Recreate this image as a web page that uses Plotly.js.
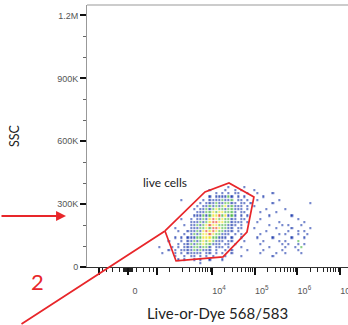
<!DOCTYPE html>
<html>
<head>
<meta charset="utf-8">
<script src="https://cdn.plot.ly/plotly-3.0.1.min.js"></script>
<style>
html,body{margin:0;padding:0;background:#fff;overflow:hidden;}
#chart{width:348px;height:325px;}
</style>
</head>
<body>
<div id="chart"></div>
<script>
// ---- data ----
// biexponential-style display transform (asinh with cofactor)
const transformC = 215.5;
function toDisplay(v){ return Math.asinh(v / transformC); }

// x axis ticks (fluorescence values)
const xMajorValues = [-500, 0, 500, 1e4, 1e5, 1e6, 1e7];
const xMajorLabels = ['', '0', '', '10<sup>4</sup>', '10<sup>5</sup>', '10<sup>6</sup>', '10<sup>7</sup>'];
const xMinorValues = [-400,-300,-200,-100,-50,-40,-30,-20,-10,10,20,30,40,50,100,200,300,400,
  1000,2000,3000,4000,5000,6000,7000,8000,9000,
  2e4,3e4,4e4,5e4,6e4,7e4,8e4,9e4,
  2e5,3e5,4e5,5e5,6e5,7e5,8e5,9e5,
  2e6,3e6,4e6,5e6,6e6,7e6,8e6,9e6];

// y axis ticks (SSC)
const yTickValues = [0, 300000, 600000, 900000, 1200000];
const yTickLabels = ['0', '300K', '600K', '900K', '1.2M'];

// gate "live cells" polygon vertices (fluorescence, SSC)
const gateX = [778, 6850, 25000, 96000, 66000, 18100, 1430];
const gateY = [172000, 358000, 401000, 334000, 167000, 48000, 29000];
const gateName = 'live cells';

// pseudocolor density: rows top (high SSC) to bottom,
// '.' = no events, 1 = low (blue), 2 = green, 3 = yellow, 4 = high (red)
const densityRows = [
 "..........|..........|..1....1..|..........|.........",
 "..........|......1...|.1..1.1...|1.........|.........",
 "..........|........1.|1.1.11..1.|.1....1...|.........",
 "..........|......1.11|1121.1.1..|...1......|.........",
 ".......1..|....1.1111|2112.11.1.|.1......1.|.........",
 "..........|...1.11121|12211.11.1|......1...|........1",
 "..........|..1.112121|2312111.1.|1.........|.........",
 "..........|.1.1121232|2122111.1.|....1.....|1........",
 "..........|..11122323|32221.11..|..1....1..|.........",
 "..........|.111212334|23121.1.1.|.....1....|..1......",
 ".......1..|1.11213432|32211.11..|..1.......|....1....",
 "..........|1112123443|3221111.1.|.1......1.|......1..",
 "........1.|1121234332|22111.1...|.....1...1|.1...1...",
 ".....1....|1112232443|2211.11...|1......1..|..1.....1",
 "......1..1|1121343432|2111.1....|....1.....|.1..1.1..",
 "........1.|1212334322|111.1.1...|..1.....1.|1...1..1.",
 ".....1.1.1|1122333221|11.1..1...|.1....1...|..1...1..",
 "...1...1.1|1212323211|1.11...1..|...1....1.|1...2....",
 "......1.11|2122322111|.11.1.....|..1......1|.1..1.1..",
 "1...1.1.11|1221221.11|1.1...1...|.....1....|1..1.2...",
 "...1.1.111|1212111.1.|.1.1....1.|...1.....1|....1....",
 ".1...1.1.1|1111.11.1.|1..1......|..1....1..|1....1...",
 ".....1..1.|11.1.1.1..|.1....1...|......1...|.........",
 "......1.1.|.1.1..1...|1.........|..........|.........",
 "..........|...1......|..........|..........|........."
];
// density grid bins (display units for x, SSC for y)
const binX0 = 1.726, binDX = 0.17;
const binY0 = 17200, binDY = 15030;

// ---- build ----
const zGrid = densityRows.slice().reverse().map(r =>
  r.replace(/\|/g,'').split('').map(ch => ch === '.' ? null : Number(ch)));

const densityTrace = {
  type: 'heatmap',
  z: zGrid,
  x0: binX0, dx: binDX,
  y0: binY0, dy: binDY,
  xgap: 1.3, ygap: 1.3,
  zmin: 0.5, zmax: 4.5,
  colorscale: [[0,'#2844b0'],[0.25,'#2844b0'],[0.25,'#4fb848'],[0.5,'#4fb848'],
               [0.5,'#ece22c'],[0.75,'#ece22c'],[0.75,'#e8442a'],[1,'#e8442a']],
  showscale: false,
  hoverinfo: 'skip'
};

const gateTrace = {
  type: 'scatter', mode: 'lines',
  x: gateX.concat([gateX[0]]).map(toDisplay),
  y: gateY.concat([gateY[0]]),
  line: {color: '#e8262a', width: 1.7},
  hoverinfo: 'skip'
};

const red = '#e8262a';
const layout = {
  width: 348, height: 325,
  margin: {l: 87, r: 0, t: 5, b: 58, pad: 0},
  paper_bgcolor: '#fff', plot_bgcolor: '#fff',
  showlegend: false,
  xaxis: {
    range: [-2.211, 11.866],
    tickmode: 'array',
    tickvals: xMajorValues.map(toDisplay),
    ticktext: xMajorLabels,
    ticks: 'outside', ticklen: 7, tickwidth: 2, tickcolor: '#111',
    ticklabelshift: 7, ticklabelstandoff: 8, ticklabeloverflow: 'allow',
    minor: {tickmode: 'array', tickvals: xMinorValues.map(toDisplay), ticks: 'outside',
            ticklen: 4, tickwidth: 1, tickcolor: '#222', showgrid: false},
    showgrid: false, zeroline: false,
    showline: true, linecolor: '#333', linewidth: 1,
    tickfont: {family: 'Liberation Sans, Arial, sans-serif', size: 9, color: '#555'},
    title: {text: 'Live-or-Dye 568/583', standoff: 13,
            font: {family: 'Lato, sans-serif', size: 15, color: '#222'}},
    fixedrange: true
  },
  yaxis: {
    range: [0, 1250000],
    tickmode: 'array',
    tickvals: yTickValues,
    ticktext: yTickLabels,
    ticks: 'outside', ticklen: 6, tickwidth: 2, tickcolor: '#111',
    minor: {dtick: 100000, tick0: 0, ticks: 'outside', ticklen: 3, tickwidth: 1,
            tickcolor: '#666', showgrid: false},
    showgrid: false, zeroline: false,
    showline: true, linecolor: '#999', linewidth: 1,
    tickfont: {family: 'Liberation Sans, Arial, sans-serif', size: 9, color: '#555'},
    title: {text: 'SSC', standoff: 34,
            font: {family: 'Lato, sans-serif', size: 12.5, color: '#222'}},
    fixedrange: true
  },
  shapes: [
    {type: 'line', xref: 'paper', yref: 'paper', x0: 0, x1: 1, y0: 1, y1: 1,
     line: {color: '#999', width: 1}}
  ],
  annotations: [
    {xref: 'x', yref: 'y', x: toDisplay(780), y: 405000, text: gateName, showarrow: false,
     font: {family: 'Lato, sans-serif', size: 12, color: '#222'}},
    // red call-out arrow on the left
    {xref: 'paper', yref: 'paper', x: -0.0805, y: 0.1947, text: '', showarrow: true,
     ax: -70, ay: 0, arrowhead: 2, arrowsize: 1.1, arrowwidth: 1.8, arrowcolor: red},
    // red "2"
    {xref: 'paper', yref: 'paper', x: -0.2223, y: -0.1145, text: '2', showarrow: false,
     font: {family: 'Lato, sans-serif', size: 22, color: red}},
    // red pointer line to the gate vertex
    {xref: 'x', yref: 'y', x: toDisplay(gateX[0]), y: gateY[0], text: '', showarrow: true,
     ax: -145, ay: 103, arrowhead: 0, arrowwidth: 1.8, arrowcolor: red, standoff: 0}
  ]
};

Plotly.newPlot('chart', [densityTrace, gateTrace], layout,
  {staticPlot: true, displayModeBar: false});
</script>
</body>
</html>
